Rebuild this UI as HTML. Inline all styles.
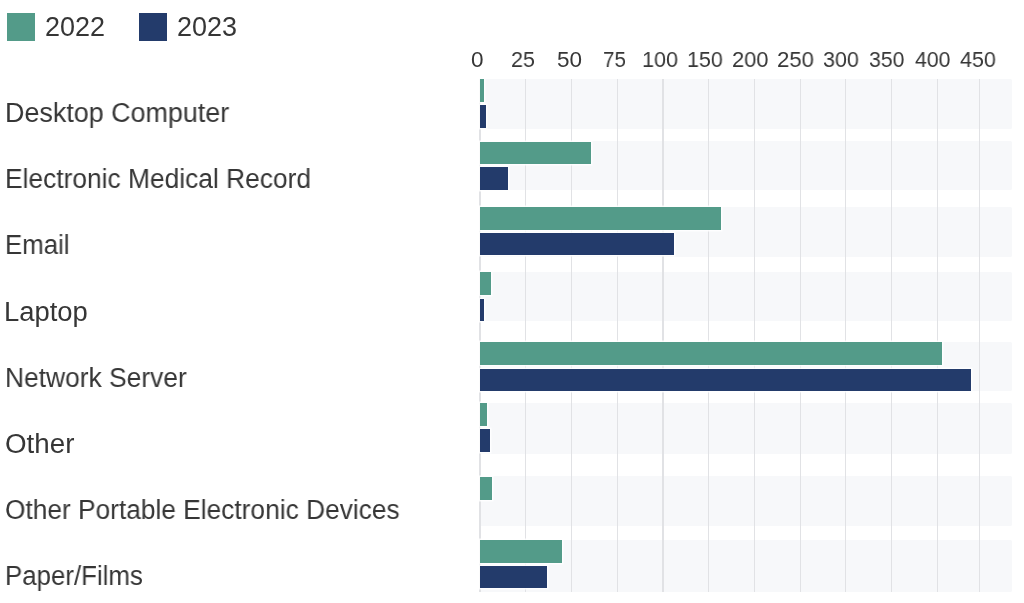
<!DOCTYPE html>
<html><head><meta charset="utf-8"><style>
html,body{margin:0;padding:0;background:#fff;}
body{width:1024px;height:603px;position:relative;overflow:hidden;font-family:"Liberation Sans",sans-serif;color:#363636;}
.a{position:absolute;}
.bar{position:absolute;box-shadow:0 0 0 1.5px rgba(255,255,255,0.85);}
.t{position:absolute;white-space:nowrap;line-height:1;will-change:transform;transform-origin:0 0;}
</style></head><body>

<div class="a" style="left:6.5px;top:13px;width:28.2px;height:28px;background:#539b89"></div>
<div class="a" style="left:138.5px;top:13px;width:28px;height:28px;background:#233b6b"></div>
<div class="t" style="left:45.16px;top:13.71px;font-size:26.8px;transform:scaleX(1.0070);">2022</div>
<div class="t" style="left:177.16px;top:13.71px;font-size:26.8px;transform:scaleX(1.0070);">2023</div>
<div class="a" style="left:480px;top:79px;width:531.5px;height:50.00px;background:#f7f8fa;border-radius:1.5px"></div>
<div class="a" style="left:480px;top:141px;width:531.5px;height:49.00px;background:#f7f8fa;border-radius:1.5px"></div>
<div class="a" style="left:480px;top:207px;width:531.5px;height:50.00px;background:#f7f8fa;border-radius:1.5px"></div>
<div class="a" style="left:480px;top:271.8px;width:531.5px;height:49.40px;background:#f7f8fa;border-radius:1.5px"></div>
<div class="a" style="left:480px;top:342px;width:531.5px;height:49.30px;background:#f7f8fa;border-radius:1.5px"></div>
<div class="a" style="left:480px;top:403px;width:531.5px;height:50.80px;background:#f7f8fa;border-radius:1.5px"></div>
<div class="a" style="left:480px;top:475.5px;width:531.5px;height:50.50px;background:#f7f8fa;border-radius:1.5px"></div>
<div class="a" style="left:480px;top:539.5px;width:531.5px;height:52.30px;background:#f7f8fa;border-radius:1.5px"></div>
<div class="a" style="left:479.40px;top:78.8px;width:1.4px;height:513.2px;background:#e1e2e5"></div>
<div class="a" style="left:524.80px;top:78.8px;width:1.4px;height:513.2px;background:#e1e2e5"></div>
<div class="a" style="left:570.50px;top:78.8px;width:1.4px;height:513.2px;background:#e1e2e5"></div>
<div class="a" style="left:616.60px;top:78.8px;width:1.4px;height:513.2px;background:#e1e2e5"></div>
<div class="a" style="left:662.20px;top:78.8px;width:1.4px;height:513.2px;background:#e1e2e5"></div>
<div class="a" style="left:707.60px;top:78.8px;width:1.4px;height:513.2px;background:#e1e2e5"></div>
<div class="a" style="left:753.60px;top:78.8px;width:1.4px;height:513.2px;background:#e1e2e5"></div>
<div class="a" style="left:799.50px;top:78.8px;width:1.4px;height:513.2px;background:#e1e2e5"></div>
<div class="a" style="left:845.00px;top:78.8px;width:1.4px;height:513.2px;background:#e1e2e5"></div>
<div class="a" style="left:890.70px;top:78.8px;width:1.4px;height:513.2px;background:#e1e2e5"></div>
<div class="a" style="left:936.70px;top:78.8px;width:1.4px;height:513.2px;background:#e1e2e5"></div>
<div class="a" style="left:978.60px;top:78.8px;width:1.4px;height:513.2px;background:#e1e2e5"></div>
<div class="bar" style="left:480px;top:79px;width:4.20px;height:23.00px;background:#539b89"></div>
<div class="bar" style="left:480px;top:104.8px;width:5.80px;height:22.90px;background:#233b6b"></div>
<div class="bar" style="left:480px;top:141.6px;width:111.40px;height:22.70px;background:#539b89"></div>
<div class="bar" style="left:480px;top:167.3px;width:28.30px;height:22.60px;background:#233b6b"></div>
<div class="bar" style="left:480px;top:207px;width:240.50px;height:22.60px;background:#539b89"></div>
<div class="bar" style="left:480px;top:232.7px;width:193.90px;height:22.50px;background:#233b6b"></div>
<div class="bar" style="left:480px;top:272px;width:11.00px;height:23.20px;background:#539b89"></div>
<div class="bar" style="left:480px;top:298.5px;width:4.20px;height:22.80px;background:#233b6b"></div>
<div class="bar" style="left:480px;top:342.2px;width:461.60px;height:22.90px;background:#539b89"></div>
<div class="bar" style="left:480px;top:368.7px;width:490.50px;height:22.60px;background:#233b6b"></div>
<div class="bar" style="left:480px;top:403.3px;width:7.00px;height:23.00px;background:#539b89"></div>
<div class="bar" style="left:480px;top:429.4px;width:9.90px;height:22.70px;background:#233b6b"></div>
<div class="bar" style="left:480px;top:476.9px;width:12.40px;height:22.90px;background:#539b89"></div>
<div class="bar" style="left:480px;top:540px;width:81.70px;height:22.90px;background:#539b89"></div>
<div class="bar" style="left:480px;top:565.6px;width:67.30px;height:22.90px;background:#233b6b"></div>
<div class="t" style="left:471.39px;top:48.95px;font-size:22.5px;">0</div>
<div class="t" style="left:510.88px;top:48.95px;font-size:22.5px;transform:scaleX(0.9565);">25</div>
<div class="t" style="left:556.90px;top:48.95px;font-size:22.5px;transform:scaleX(0.9828);">50</div>
<div class="t" style="left:603.02px;top:48.95px;font-size:22.5px;transform:scaleX(0.9174);">75</div>
<div class="t" style="left:641.84px;top:48.95px;font-size:22.5px;transform:scaleX(0.9601);">100</div>
<div class="t" style="left:687.08px;top:48.95px;font-size:22.5px;transform:scaleX(0.9543);">150</div>
<div class="t" style="left:731.88px;top:48.95px;font-size:22.5px;transform:scaleX(0.9724);">200</div>
<div class="t" style="left:777.11px;top:48.95px;font-size:22.5px;transform:scaleX(0.9837);">250</div>
<div class="t" style="left:823.38px;top:48.95px;font-size:22.5px;transform:scaleX(0.9560);">300</div>
<div class="t" style="left:869.38px;top:48.95px;font-size:22.5px;transform:scaleX(0.9447);">350</div>
<div class="t" style="left:914.88px;top:48.95px;font-size:22.5px;transform:scaleX(0.9444);">400</div>
<div class="t" style="left:959.88px;top:48.95px;font-size:22.5px;transform:scaleX(0.9560);">450</div>
<div class="t" style="left:4.58px;top:100.14px;font-size:27px;transform:scaleX(0.9964);">Desktop Computer</div>
<div class="t" style="left:4.74px;top:166.14px;font-size:27px;transform:scaleX(0.9761);">Electronic Medical Record</div>
<div class="t" style="left:4.58px;top:232.14px;font-size:27px;transform:scaleX(0.9563);">Email</div>
<div class="t" style="left:4.42px;top:299.14px;font-size:27px;transform:scaleX(1.0152);">Laptop</div>
<div class="t" style="left:4.74px;top:365.14px;font-size:27px;transform:scaleX(0.9771);">Network Server</div>
<div class="t" style="left:4.74px;top:430.64px;font-size:27px;transform:scaleX(1.0273);">Other</div>
<div class="t" style="left:4.74px;top:497.14px;font-size:27px;transform:scaleX(0.9737);">Other Portable Electronic Devices</div>
<div class="t" style="left:4.74px;top:563.14px;font-size:27px;transform:scaleX(0.9574);">Paper/Films</div>
</body></html>
